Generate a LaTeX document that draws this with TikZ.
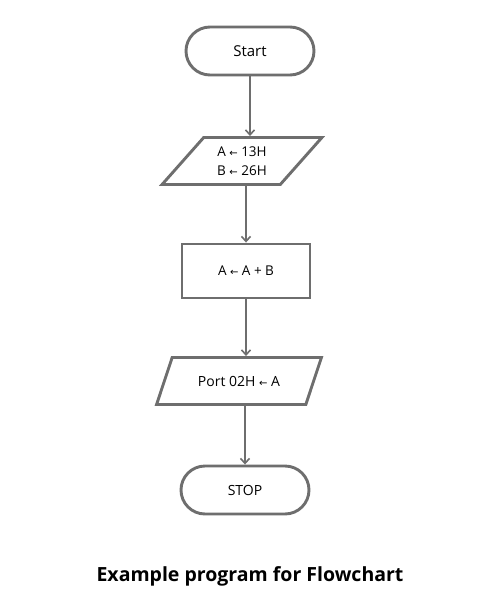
\documentclass[tikz,border=0pt]{standalone}
\usepackage{fontspec}
\setmainfont{Open Sans}
\newfontfamily\arrowfont{DejaVu Sans}
\usetikzlibrary{shapes.geometric,arrows.meta}
\definecolor{edge}{HTML}{6E6E6E}
\newcommand{\lar}{{\arrowfont\fontsize{10}{10}\selectfont ←}}
\begin{document}
\begin{tikzpicture}[x=1pt,y=-1pt,
  shapeline/.style={draw=edge,line width=2.9pt,fill=white,inner sep=0pt,font=\fontsize{13.5}{19}\selectfont,align=center},
  term/.style={shapeline,rectangle,rounded corners=24pt,minimum width=128pt,minimum height=48pt},
  proc/.style={shapeline,rectangle,minimum width=128pt,minimum height=54pt},
  io/.style={shapeline,trapezium,trapezium left angle=47,trapezium right angle=133,trapezium stretches=true,minimum height=47pt},
  arr/.style={draw=edge,line width=1.8pt,-{Straight Barb[length=5pt,width=9pt,line width=1.6pt]}},
  title/.style={font=\fontsize{19.5}{22}\selectfont\bfseries,text=black}
]
\useasboundingbox[fill=white] (0,0) rectangle (500,600);
\node[term,font=\fontsize{15}{16}\selectfont] (start) at (250,51) {Start};
\node[io,minimum width=160pt] (io1) at (242,161) {A \lar\ 13H\\B \lar\ 26H};
\node[proc] (calc) at (246,271) {A \lar\ A + B};
\node[io,minimum width=165pt,font=\fontsize{14}{16}\selectfont] (io2) at (239,381) {Port 02H \lar\ A};
\node[term,font=\fontsize{14}{16}\selectfont] (stop) at (245,490) {STOP};
\node[title] (cap) at (250,576) {Example program for Flowchart};
\draw[arr] (start.south) -- (start.south |- io1.north);
\draw[arr] (io1.south -| calc.north) -- (calc.north);
\draw[arr] (calc.south) -- (calc.south |- io2.north);
\draw[arr] (io2.south -| stop.north) -- (stop.north);
\end{tikzpicture}
\end{document}
